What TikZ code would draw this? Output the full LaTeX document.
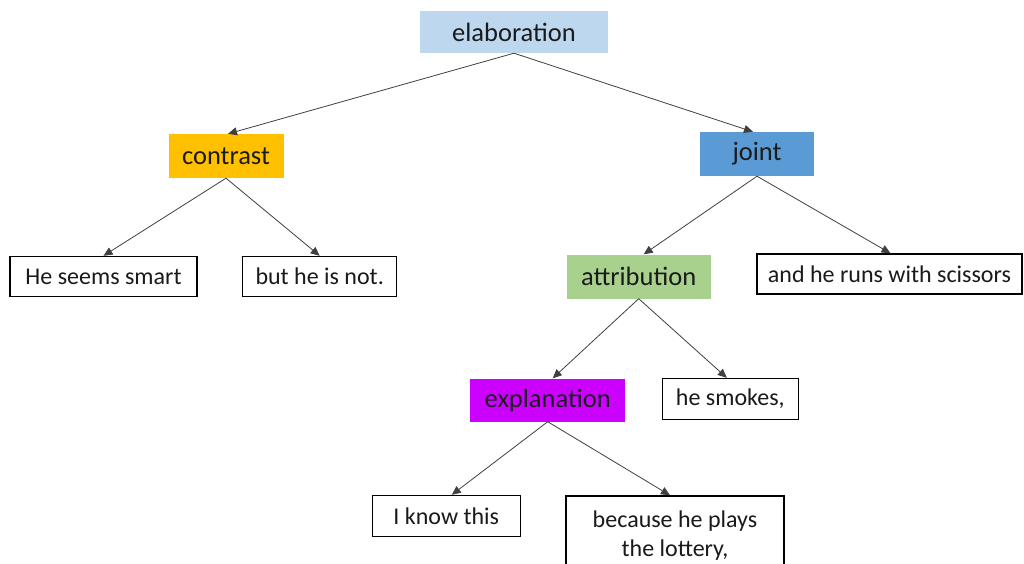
\documentclass[tikz,border=0pt]{standalone}
\usepackage{fontspec}
\setmainfont{Carlito}
\usetikzlibrary{arrows.meta}
\definecolor{cblue}{HTML}{BDD7EE}
\definecolor{corange}{HTML}{FFC000}
\definecolor{cjoint}{HTML}{5B9BD5}
\definecolor{cgreen}{HTML}{A9D18E}
\definecolor{cpurple}{HTML}{CC00FF}
\definecolor{ctext}{HTML}{1A1A1A}
\definecolor{cline}{HTML}{404040}
\tikzset{
  rel/.style={inner sep=0pt, text=ctext, font=\fontsize{26.5}{32}\selectfont},
  seg/.style={draw=black, line width=1.4pt, fill=white, inner sep=0pt, text=ctext, font=\fontsize{24}{29}\selectfont},
  conn/.style={draw=cline, line width=0.8pt, -{Triangle[length=9pt,width=8pt]}}
}
\begin{document}
\begin{tikzpicture}[x=1pt,y=-1pt]
\clip (0,0) rectangle (1024,563);
\fill[white] (0,0) rectangle (1024,563);
\node[rel, fill=cblue, minimum width=188pt, minimum height=42pt] (elab) at (514,32) {elaboration};
\node[rel, fill=corange, minimum width=115pt, minimum height=44pt] (contrast) at (226,156) {contrast};
\node[rel, fill=cjoint, minimum width=114pt, minimum height=44pt] (joint) at (757,154) {joint};
\node[rel, fill=cgreen, minimum width=144pt, minimum height=44pt] (attr) at (638.7,276.5) {attribution};
\node[rel, fill=cpurple, minimum width=155pt, minimum height=43pt] (expl) at (547.7,400) {explanation};
\node[seg, minimum width=187pt, minimum height=40pt] (smart) at (103.5,276.5) {He seems smart};
\node[seg, minimum width=154pt, minimum height=40pt] (not) at (319.7,276.5) {but he is not.};
\node[seg, minimum width=265pt, minimum height=40pt] (scissors) at (889.5,274) {and he runs with scissors};
\node[seg, minimum width=136pt, minimum height=41pt] (smokes) at (730.3,399) {he smokes,};
\node[seg, minimum width=148pt, minimum height=41pt] (know) at (446.3,516) {I know this};
\node[seg, minimum width=218pt, minimum height=80pt, align=center] (lottery) at (675,536) {because he plays\\the lottery,};
\draw[conn] (elab.south) -- ([xshift=2pt]contrast.north);
\draw[conn] (elab.south) -- ([xshift=-4pt]joint.north);
\draw[conn] (contrast.south) -- (smart.north);
\draw[conn] (contrast.south) -- (not.north);
\draw[conn] (joint.south) -- ([xshift=5pt]attr.north);
\draw[conn] (joint.south) -- ([xshift=1pt]scissors.north);
\draw[conn] (attr.south) -- ([xshift=5pt]expl.north);
\draw[conn] (attr.south) -- ([xshift=-3.5pt]smokes.north);
\draw[conn] (expl.south) -- ([xshift=5.5pt]know.north);
\draw[conn] (expl.south) -- ([xshift=-5pt]lottery.north);
\end{tikzpicture}
\end{document}
